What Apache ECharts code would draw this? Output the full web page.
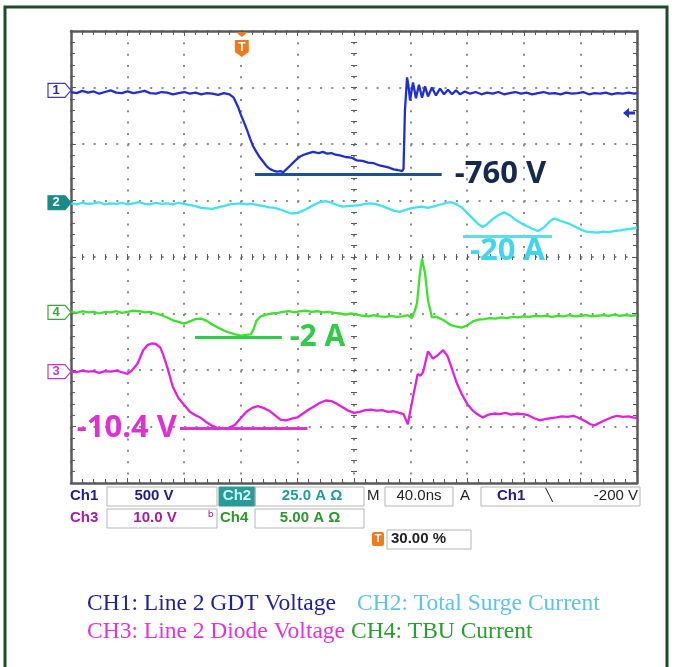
<!DOCTYPE html>
<html><head><meta charset="utf-8">
<script src="https://cdn.jsdelivr.net/npm/echarts@6/dist/echarts.min.js"></script>
<style>html,body{margin:0;padding:0;background:#fff}#c{width:676px;height:667px}</style>
</head><body><div id="c"></div>
<script>
// Time axis: ns relative to trigger, 40 ns/div, 10 divisions
const timeMin = -120, timeMax = 280, timeStep = 40;
// Vertical: screen divisions (center = 0), 8 divisions
const divMin = -4, divMax = 4;

const channelNames = ['CH1', 'CH2', 'CH3', 'CH4'];
const channelColors = ['#1f2fd6', '#3fe3f2', '#e41fe0', '#3ee22c'];
const channelGround = [2.95, 0.96, -2.03, -0.98];      // ground marker positions (div)
const triggerLevelV = -200, ch1VoltsPerDiv = 500, triggerTimeNs = 0;

// [time ns, screen div]
const ch1Trace = [[-120,2.92],[-116,2.90],[-112,2.94],[-108,2.91],[-104,2.93],[-100,2.89],[-96,2.92],[-92,2.95],[-88,2.91],[-84,2.90],[-80,2.93],[-76,2.90],[-72,2.92],[-68,2.94],[-64,2.90],[-60,2.89],[-56,2.92],[-52,2.91],[-48,2.88],[-44,2.90],[-40,2.92],[-36,2.89],[-32,2.91],[-28,2.88],[-24,2.90],[-20,2.89],[-16,2.87],[-12,2.90],[-8,2.88],[-5,2.82],[-2,2.66],[0,2.52],[2,2.40],[4.5,2.24],[6.5,2.10],[8.5,1.97],[11,1.86],[13.5,1.76],[16,1.68],[18.5,1.60],[21,1.55],[23,1.53],[25.5,1.51],[28,1.52],[30,1.50],[32.5,1.56],[35,1.62],[37,1.67],[39.5,1.73],[42,1.78],[44.5,1.81],[47,1.83],[51,1.86],[55,1.84],[58,1.86],[61,1.83],[64,1.84],[67,1.81],[70,1.80],[74,1.77],[78,1.76],[82,1.71],[86,1.70],[90,1.67],[94,1.66],[98,1.62],[102,1.60],[105,1.58],[108,1.55],[111,1.54],[114,1.52],[115,1.56],[116,2.60],[117.5,3.18],[118.5,3.03],[119.6,2.77],[121.7,3.09],[123.8,2.81],[125.9,3.05],[128.1,2.82],[130.2,3.02],[132.3,2.84],[135.1,3.00],[137.9,2.86],[140.8,2.98],[143.6,2.88],[146.4,2.96],[149.3,2.88],[152.1,2.95],[154.9,2.88],[158.4,2.93],[162,2.89],[166,2.92],[170,2.88],[174,2.91],[178,2.89],[182,2.92],[186,2.88],[190,2.90],[194,2.92],[198,2.89],[202,2.91],[206,2.88],[210,2.90],[214,2.92],[218,2.89],[222,2.90],[226,2.88],[230,2.91],[234,2.89],[238,2.90],[242,2.92],[246,2.88],[250,2.90],[254,2.89],[258,2.91],[262,2.88],[266,2.90],[270,2.89],[274,2.91],[278,2.89],[280,2.90]];

const ch2Trace = [[-120,0.95],[-116,0.93],[-112,0.96],[-108,0.94],[-104,0.95],[-100,0.97],[-96,0.93],[-92,0.95],[-88,0.94],[-84,0.96],[-80,0.93],[-76,0.95],[-72,0.97],[-68,0.94],[-64,0.93],[-60,0.96],[-56,0.94],[-52,0.95],[-48,0.93],[-44,0.96],[-40,0.94],[-36,0.92],[-32,0.90],[-28,0.87],[-24,0.86],[-20,0.85],[-16,0.88],[-12,0.90],[-8,0.93],[-4,0.94],[0,0.95],[4,0.93],[8,0.94],[12,0.92],[16,0.90],[20,0.88],[24,0.87],[28,0.84],[32,0.80],[36,0.77],[40,0.78],[44,0.82],[48,0.87],[52,0.93],[56,0.97],[60,0.99],[64,0.96],[68,0.92],[72,0.89],[76,0.90],[80,0.91],[84,0.92],[88,0.94],[92,0.95],[96,0.93],[100,0.90],[104,0.86],[108,0.82],[112,0.80],[116,0.83],[120,0.86],[124,0.88],[128,0.89],[132,0.87],[136,0.89],[140,0.92],[144,0.95],[148,0.97],[152,0.94],[156,0.88],[160,0.78],[164,0.68],[168,0.58],[171,0.53],[174,0.58],[178,0.67],[182,0.74],[186,0.79],[190,0.74],[194,0.66],[198,0.60],[202,0.55],[206,0.50],[210,0.46],[214,0.52],[218,0.62],[221,0.68],[224,0.66],[228,0.62],[232,0.59],[236,0.54],[240,0.49],[244,0.45],[248,0.44],[252,0.43],[256,0.45],[260,0.44],[264,0.46],[268,0.47],[272,0.49],[276,0.50],[280,0.52]];

const ch3Trace = [[-120,-2.02],[-116,-2.04],[-112,-2.01],[-108,-2.03],[-104,-2.02],[-100,-2.05],[-96,-2.02],[-92,-2.03],[-88,-2.01],[-84,-2.04],[-80,-2.07],[-77,-2.01],[-73,-1.89],[-69,-1.65],[-66,-1.56],[-63,-1.53],[-60,-1.54],[-57,-1.60],[-55,-1.72],[-52,-1.95],[-48,-2.30],[-44,-2.50],[-40,-2.62],[-36,-2.74],[-32,-2.80],[-28,-2.85],[-24,-2.93],[-20,-2.99],[-16,-3.03],[-12,-3.04],[-8,-3.02],[-4,-2.97],[0,-2.85],[4,-2.74],[8,-2.67],[12,-2.64],[16,-2.67],[20,-2.72],[24,-2.80],[28,-2.88],[32,-2.89],[36,-2.86],[40,-2.84],[44,-2.77],[48,-2.70],[52,-2.64],[56,-2.58],[60,-2.54],[64,-2.55],[68,-2.60],[72,-2.66],[76,-2.72],[80,-2.76],[84,-2.74],[88,-2.71],[92,-2.70],[96,-2.72],[100,-2.71],[104,-2.74],[108,-2.73],[112,-2.76],[115,-2.78],[118,-2.96],[121.7,-2.48],[125,-2.07],[127,-2.10],[128.8,-2.04],[132.3,-1.67],[135.8,-1.80],[139,-1.74],[143,-1.65],[146,-1.75],[148,-1.89],[152.8,-2.24],[156,-2.42],[160,-2.60],[164,-2.72],[167,-2.78],[171,-2.84],[175,-2.79],[179,-2.77],[183,-2.78],[187,-2.76],[191,-2.79],[195,-2.77],[199,-2.78],[203,-2.80],[207,-2.85],[211,-2.89],[215,-2.87],[219,-2.85],[223,-2.84],[227,-2.82],[231,-2.83],[235,-2.81],[239,-2.85],[243,-2.90],[247,-2.96],[250,-2.98],[254,-2.93],[258,-2.88],[262,-2.84],[266,-2.81],[270,-2.83],[274,-2.82],[277,-2.84],[280,-2.85]];

const ch4Trace = [[-120,-0.97],[-116,-0.99],[-112,-0.96],[-108,-0.98],[-104,-0.97],[-100,-1.00],[-96,-0.97],[-92,-0.98],[-88,-0.96],[-84,-0.99],[-80,-0.97],[-76,-0.95],[-72,-0.96],[-68,-0.98],[-64,-0.97],[-60,-1.00],[-56,-1.03],[-52,-1.07],[-48,-1.12],[-44,-1.15],[-40,-1.18],[-36,-1.14],[-32,-1.10],[-28,-1.09],[-24,-1.13],[-20,-1.20],[-16,-1.25],[-12,-1.30],[-8,-1.34],[-4,-1.37],[0,-1.39],[4,-1.38],[7,-1.37],[9,-1.28],[11,-1.13],[14,-1.05],[18,-1.02],[22,-1.00],[26,-0.99],[30,-0.97],[34,-0.96],[38,-0.98],[42,-0.96],[46,-0.95],[50,-0.97],[54,-0.96],[58,-0.98],[62,-0.97],[66,-0.99],[70,-1.00],[74,-1.02],[78,-1.00],[82,-1.02],[86,-1.04],[90,-1.05],[94,-1.03],[98,-1.05],[102,-1.06],[106,-1.04],[110,-1.06],[114,-1.05],[118,-1.03],[121,-1.08],[123,-0.95],[124.5,-0.82],[126.6,-0.29],[128.1,-0.03],[129,-0.05],[130.2,-0.29],[132.3,-0.77],[135.1,-1.07],[138,-1.06],[141,-1.09],[144,-1.13],[148,-1.20],[152,-1.23],[156,-1.25],[160,-1.21],[164,-1.14],[168,-1.11],[172,-1.10],[176,-1.08],[180,-1.09],[184,-1.07],[188,-1.08],[192,-1.06],[196,-1.07],[200,-1.05],[204,-1.06],[208,-1.04],[212,-1.05],[216,-1.04],[220,-1.06],[224,-1.04],[228,-1.05],[232,-1.03],[236,-1.05],[240,-1.04],[244,-1.03],[248,-1.05],[252,-1.04],[256,-1.03],[260,-1.04],[264,-1.02],[268,-1.04],[272,-1.03],[276,-1.04],[280,-1.03]];

// Annotations (measurement lines): text, level (div), start/end time (ns), channel index
const annoText    = ['-760 V', '-20 A', '-10.4 V', '-2 A'];
const annoLevel   = [1.46, 0.363, -3.035, -1.425];
const annoStart   = [10, 157, -43, -32.4];
const annoEnd     = [142, 220, 47, 29];
const annoChannel = [0, 1, 2, 3];

// Scope settings read-out
const settingsRow1 = ['Ch1', '500 V', 'Ch2', '25.0 A \u03A9', 'M', '40.0ns', 'A', 'Ch1', '-200 V'];
const settingsRow2 = ['Ch3', '10.0 V', 'Ch4', '5.00 A \u03A9'];
const settingsRow3 = ['30.00 %'];
const legendLines = ['CH1: Line 2 GDT Voltage', 'CH2: Total Surge Current', 'CH3: Line 2 Diode Voltage', 'CH4: TBU Current'];
const legendColors = ['#2121a3', '#5cc3ee', '#e133d6', '#2a9e2f'];

const chart = echarts.init(document.getElementById('c'), null, {renderer: 'canvas', width: 676, height: 667});

const AX = '#5a5a5a';
const DOT = {color: '#8c8c8c', width: 2, type: [2, 9.32]};
function xAx(pos, offset, main) {
  return {type: 'value', min: timeMin, max: timeMax, interval: timeStep, position: pos, offset: offset,
    axisLine: {show: main, onZero: false, lineStyle: {color: AX, width: 2.5}},
    axisTick: {show: true, inside: true, length: main ? 5 : 3, lineStyle: {color: AX, width: 1}},
    minorTick: {show: true, splitNumber: 5, length: main ? 4 : 3, lineStyle: {color: AX, width: 1}},
    axisLabel: {show: false},
    splitLine: {show: pos === 'bottom' && main, lineStyle: DOT}};
}
function yAx(pos, offset, main) {
  return {type: 'value', min: divMin, max: divMax, interval: 1, position: pos, offset: offset,
    axisLine: {show: main, onZero: false, lineStyle: {color: AX, width: 2.5}},
    axisTick: {show: true, inside: true, length: main ? 5 : 3, lineStyle: {color: AX, width: 1}},
    minorTick: {show: true, splitNumber: 5, length: main ? 4 : 3, lineStyle: {color: AX, width: 1}},
    axisLabel: {show: false},
    splitLine: {show: pos === 'left' && main, lineStyle: DOT}};
}

const traces = [ch1Trace, ch2Trace, ch3Trace, ch4Trace];
const annoColor     = ['#1f4f94', '#5fdcea', '#e02fd2', '#2fcc47'];
const annoTextColor = ['#15284f', '#3fd6ee', '#e02fd2', '#2fcc47'];
const annoFont = [31, 31, 31, 30];
const annoPos  = ['end', 'insideMiddleBottom', 'start', 'end'];
const annoDist = [13, -1, 3, 8];

const series = traces.map((tr, i) => {
  const s = {type: 'line', name: channelNames[i], data: tr, showSymbol: false, symbol: 'none',
    lineStyle: {color: channelColors[i], width: 2.3}, color: channelColors[i], z: 3, silent: true};
  const a = annoChannel.indexOf(i);
  if (a >= 0) {
    s.markLine = {silent: true, symbol: ['none', 'none'], animation: false,
      lineStyle: {color: annoColor[a], width: 3, type: 'solid'},
      label: {show: true, position: annoPos[a], distance: annoDist[a], formatter: annoText[a],
        color: annoTextColor[a], fontSize: annoFont[a], lineHeight: annoFont[a], fontWeight: 700, fontFamily: 'Open Sans, Lato, sans-serif'},
      emphasis: {disabled: true},
      data: [[{coord: [annoStart[a], annoLevel[a]]}, {coord: [annoEnd[a], annoLevel[a]]}]]};
  }
  return s;
});

chart.setOption({
  animation: false,
  backgroundColor: '#ffffff',
  grid: {left: 71, top: 31, width: 566, height: 452, show: false},
  xAxis: [xAx('bottom', 0, true), xAx('top', 0, true), xAx('bottom', -226, false), xAx('top', -226, false)],
  yAxis: [yAx('left', 0, true), yAx('right', 0, true), yAx('left', -283, false), yAx('right', -283, false)],
  series: series
});

// ---- decorations (scope UI) ----
const g = [];
g.push({type: 'rect', shape: {x: 5, y: 7, width: 662, height: 700}, style: {fill: 'none', stroke: '#1f4a2c', lineWidth: 3}, z: 100});

// channel ground markers
const mk = [
  {label: '1', stroke: '#3a3ac8', fill: '#ffffff', text: '#2a2aa6'},
  {label: '2', stroke: '#1a8a88', fill: '#1a8a88', text: '#ffffff'},
  {label: '3', stroke: '#c43ac0', fill: '#ffffff', text: '#c43ac0'},
  {label: '4', stroke: '#38a838', fill: '#ffffff', text: '#38a838'}
];
const leftX = chart.convertToPixel({xAxisIndex: 0}, timeMin);
channelGround.forEach((v, i) => {
  const y = chart.convertToPixel({yAxisIndex: 0}, v);
  g.push({type: 'polygon', shape: {points: [[leftX - 23, y - 7], [leftX - 6, y - 7], [leftX, y], [leftX - 6, y + 7], [leftX - 23, y + 7]]},
    style: {fill: mk[i].fill, stroke: mk[i].stroke, lineWidth: 1.2}, z: 50});
  g.push({type: 'text', x: leftX - 15, y: y, style: {text: mk[i].label, fill: mk[i].text, font: 'bold 13px Liberation Sans', align: 'center', verticalAlign: 'middle'}, z: 51});
});

// trigger position marker (top)
const tx = chart.convertToPixel({xAxisIndex: 0}, triggerTimeNs) + 1;
g.push({type: 'polygon', shape: {points: [[tx - 6, 32], [tx + 6, 32], [tx, 37]]}, style: {fill: '#f07a1e'}, z: 50});
g.push({type: 'polygon', shape: {points: [[tx - 7, 40], [tx + 7, 40], [tx + 7, 52], [tx, 57], [tx - 7, 52]]}, style: {fill: '#f07a1e'}, z: 50});
g.push({type: 'text', x: tx, y: 47.5, style: {text: 'T', fill: '#ffffff', font: 'bold 12px Liberation Sans', align: 'center', verticalAlign: 'middle'}, z: 51});

// trigger level arrow (right)
const ty = chart.convertToPixel({yAxisIndex: 0}, channelGround[0] + triggerLevelV / ch1VoltsPerDiv);
g.push({type: 'polygon', shape: {points: [[623, ty], [629, ty - 5], [629, ty - 1.5], [635, ty - 1.5], [635, ty + 1.5], [629, ty + 1.5], [629, ty + 5]]}, style: {fill: '#2233c8'}, z: 50});

// settings read-out
const F = '15px Liberation Sans';
const FB = 'bold 15px Liberation Sans';
function box(x, y, w, h, fill) { g.push({type: 'rect', shape: {x: x, y: y, width: w, height: h}, style: {fill: fill || 'none', stroke: fill ? fill : '#b5b5b5', lineWidth: 1}, z: 40}); }
function txt(s, x, y, color, align, font) { g.push({type: 'text', x: x, y: y, style: {text: s, fill: color, font: font || F, align: align || 'left', verticalAlign: 'middle'}, z: 41}); }
const r1 = 496, r2 = 518, r3 = 539;
txt(settingsRow1[0], 70, r1, '#1c1c96', 'left', FB);
box(107, r1 - 9, 110, 19); txt(settingsRow1[1], 154, r1, '#1c1c96', 'center', FB);
box(219, r1 - 9, 36, 19, '#2a9a98'); txt(settingsRow1[2], 237, r1, '#c8ffff', 'center', FB);
box(255, r1 - 9, 109, 19); txt(settingsRow1[3], 312, r1, '#1f9f9c', 'center', FB);
txt(settingsRow1[4], 367, r1, '#222', 'left');
box(385, r1 - 9, 68, 19); txt(settingsRow1[5], 419, r1, '#222', 'center');
txt(settingsRow1[6], 460, r1, '#222', 'left');
box(481, r1 - 9, 159, 19); txt(settingsRow1[7], 497, r1, '#1c1c96', 'left', FB);
txt('\u2572', 549, r1, '#222', 'center', 'bold 12px DejaVu Sans');
txt(settingsRow1[8], 638, r1, '#222', 'right');
txt(settingsRow2[0], 70, r2, '#a81aa8', 'left', FB);
box(107, r2 - 9, 110, 19); txt(settingsRow2[1], 155, r2, '#a81aa8', 'center', FB);
txt('\u1D47', 211, r2, '#a81aa8', 'center', '15px DejaVu Sans');
txt(settingsRow2[2], 220, r2, '#2a9a2a', 'left', FB);
box(255, r2 - 9, 109, 19); txt(settingsRow2[3], 310, r2, '#2a9a2a', 'center', FB);
g.push({type: 'rect', shape: {x: 372, y: r3 - 7, width: 12, height: 14, r: 2}, style: {fill: '#f07a1e'}, z: 40});
txt('T', 378, r3, '#fff', 'center', 'bold 11px Liberation Sans');
box(387, r3 - 9, 84, 19); txt(settingsRow3[0], 391, r3, '#222', 'left', FB);

// caption lines
const LF = '23.5px Liberation Serif';
txt(legendLines[0], 87, 604, legendColors[0], 'left', LF);
txt(legendLines[1], 357, 604, legendColors[1], 'left', LF);
txt(legendLines[2], 87, 632, legendColors[2], 'left', LF);
txt(legendLines[3], 351, 632, legendColors[3], 'left', LF);

chart.setOption({graphic: g});
</script></body></html>
